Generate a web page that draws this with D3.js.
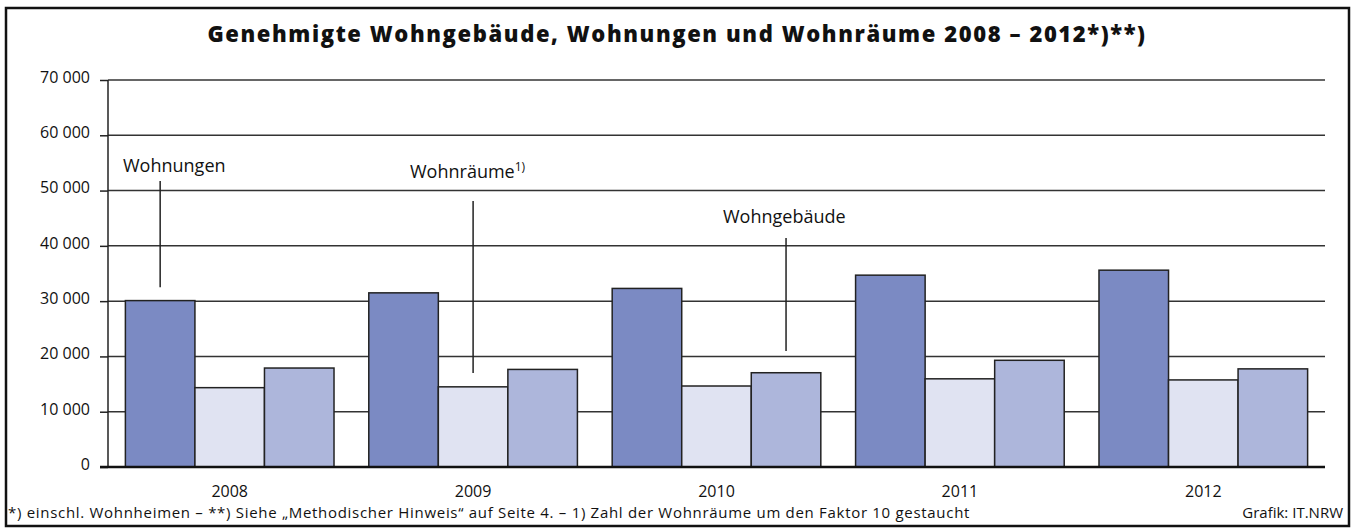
<!DOCTYPE html>
<meta charset="utf-8">
<style>
body { margin: 0; background: #fff; }
text { font-family: "Open Sans", sans-serif; fill: #111; }
.title { font-size: 22px; font-weight: 800; letter-spacing: 1.6px; }
.tick text { font-size: 16px; }
.note { font-size: 18px; }
.foot { font-size: 15px; letter-spacing: 0.7px; }
</style>
<body>
<script src="https://cdn.jsdelivr.net/npm/d3@7"></script>
<script>

var years = ["2008", "2009", "2010", "2011", "2012"];
var series = ["Wohnungen", "Wohnräume", "Wohngebäude"];
var wohnungen = [30100, 31500, 32300, 34700, 35600];
var wohnraeume = [14350, 14500, 14650, 15950, 15750];   // Faktor 10 gestaucht
var wohngebaeude = [17900, 17650, 17050, 19300, 17750];
var yTicks = [0, 10000, 20000, 30000, 40000, 50000, 60000, 70000];
var colors = ["#7b8ac3", "#e0e3f2", "#adb6db"];

var width = 1354,
    height = 528;

var svg = d3.select("body").append("svg")
    .attr("width", width)
    .attr("height", height);

svg.append("rect")
    .attr("x", 6).attr("y", 8)
    .attr("width", 1343).attr("height", 518)
    .attr("fill", "none")
    .attr("stroke", "#111")
    .attr("stroke-width", 2.5);

svg.append("text")
    .attr("class", "title")
    .attr("x", 677).attr("y", 42)
    .attr("text-anchor", "middle")
    .text("Genehmigte Wohngebäude, Wohnungen und Wohnräume 2008 – 2012*)**)");

var x0 = d3.scaleBand().domain(years).range([108, 1325]);
var x1 = d3.scaleBand().domain(series).range([0, x0.bandwidth()]).paddingOuter(0.25);
var y = d3.scaleLinear().domain([0, 70000]).range([467, 80]);

var fmt = function(d) { return d3.format(",")(d).replace(/,/g, " "); };

// grid + y axis
var yAxis = svg.append("g")
    .attr("transform", "translate(108,0)")
    .call(d3.axisLeft(y).tickValues(yTicks).tickFormat(fmt).tickSize(8).tickPadding(10));
yAxis.select(".domain").remove();
yAxis.selectAll(".tick line").attr("stroke", "#222").attr("stroke-width", 1.5);
yAxis.selectAll(".tick text").attr("dy", "0.15em");

svg.append("g").selectAll("line")
    .data(yTicks.slice(1))
  .enter().append("line")
    .attr("x1", 108).attr("x2", 1325)
    .attr("y1", function(d) { return y(d); })
    .attr("y2", function(d) { return y(d); })
    .attr("stroke", "#333")
    .attr("stroke-width", 1.5);

svg.append("line")
    .attr("x1", 108).attr("x2", 108)
    .attr("y1", y(70000)).attr("y2", y(0))
    .attr("stroke", "#222").attr("stroke-width", 1.5);

// bars
var rows = years.map(function(yr, i) {
  return { year: yr, values: [wohnungen[i], wohnraeume[i], wohngebaeude[i]] };
});

var groups = svg.append("g").selectAll("g")
    .data(rows)
  .enter().append("g")
    .attr("transform", function(d) { return "translate(" + x0(d.year) + ",0)"; });

groups.selectAll("rect")
    .data(function(d) { return d.values.map(function(v, j) { return { key: series[j], value: v, j: j }; }); })
  .enter().append("rect")
    .attr("x", function(d) { return x1(d.key); })
    .attr("width", x1.bandwidth())
    .attr("y", function(d) { return y(d.value); })
    .attr("height", function(d) { return y(0) - y(d.value); })
    .attr("fill", function(d) { return colors[d.j]; })
    .attr("stroke", "#222")
    .attr("stroke-width", 1.5);

// baseline
svg.append("line")
    .attr("x1", 100).attr("x2", 1325)
    .attr("y1", y(0)).attr("y2", y(0))
    .attr("stroke", "#111").attr("stroke-width", 2.5);

// x labels
svg.append("g").selectAll("text")
    .data(years)
  .enter().append("text")
    .attr("x", function(d) { return x0(d) + x0.bandwidth() / 2; })
    .attr("y", 497)
    .attr("text-anchor", "middle")
    .style("font-size", "16px")
    .text(function(d) { return d; });

// labels with pointer lines
var notes = [
  { text: "Wohnungen", sup: "", tx: 123, ty: 172, year: "2008", s: 0, top: 181, end: 32500 },
  { text: "Wohnräume", sup: "1)", tx: 410, ty: 178, year: "2009", s: 1, top: 201, end: 17000 },
  { text: "Wohngebäude", sup: "", tx: 723, ty: 223, year: "2010", s: 2, top: 238, end: 21000 }
];

notes.forEach(function(n) {
  var t = svg.append("text").attr("class", "note").attr("x", n.tx).attr("y", n.ty).text(n.text);
  if (n.sup) t.append("tspan").attr("dy", -7).style("font-size", "12px").text(n.sup);
  var cx = x0(n.year) + x1(series[n.s]) + x1.bandwidth() / 2;
  svg.append("line")
      .attr("x1", cx).attr("x2", cx)
      .attr("y1", n.top).attr("y2", y(n.end))
      .attr("stroke", "#222").attr("stroke-width", 1.5);
});

svg.append("text")
    .attr("class", "foot")
    .attr("x", 8).attr("y", 518)
    .text("*) einschl. Wohnheimen – **) Siehe „Methodischer Hinweis“ auf Seite 4. – 1) Zahl der Wohnräume um den Faktor 10 gestaucht");

svg.append("text")
    .attr("class", "foot")
    .attr("x", 1343).attr("y", 518)
    .attr("text-anchor", "end")
    .style("letter-spacing", "0px")
    .text("Grafik: IT.NRW");

</script>
